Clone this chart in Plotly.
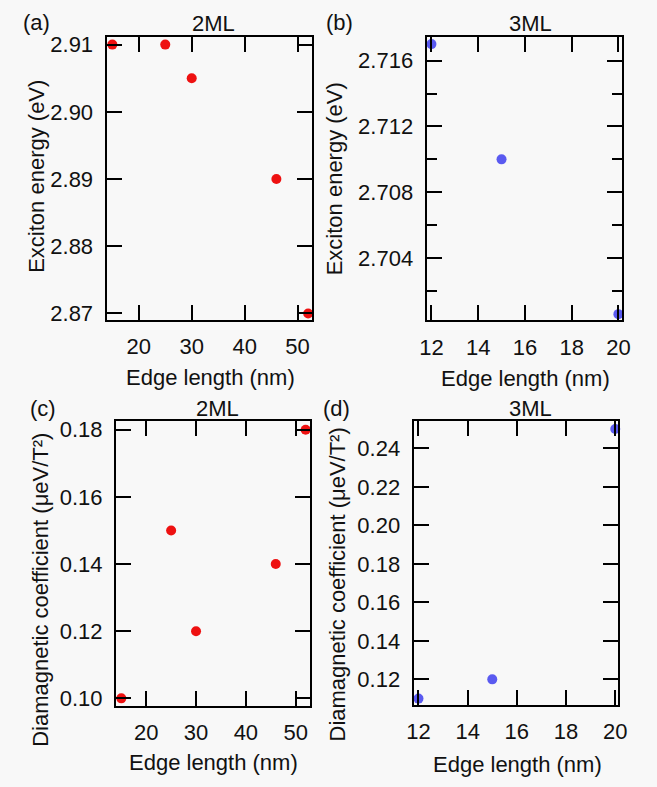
import plotly.graph_objects as go

# Edge length (nm) and measured values for each monolayer thickness
edge_2ml = [15, 25, 30, 46, 52]
energy_2ml = [2.910, 2.910, 2.905, 2.890, 2.870]
diamag_2ml = [0.10, 0.15, 0.12, 0.14, 0.18]

edge_3ml = [12, 15, 20]
energy_3ml = [2.717, 2.710, 2.7006]
diamag_3ml = [0.11, 0.12, 0.25]

W, H = 657, 787
FONT = "Liberation Sans, Arial, sans-serif"
FS = 22
RED = "#ee1111"
BLUE = "#5a5af0"
BG = "#f8f8f8"


def px_x(a, b):
    return [a / W, b / W]


def px_y(top, bottom):
    return [1 - bottom / H, 1 - top / H]


fig = go.Figure()

panels = [
    # (xaxis id, yaxis id, x data, y data, color, x domain px, y domain px)
    ("x", "y", edge_2ml, energy_2ml, RED, (102, 313), (33, 320)),
    ("x2", "y2", edge_3ml, energy_3ml, BLUE, (430, 630), (33, 320.7)),
    ("x3", "y3", edge_2ml, diamag_2ml, RED, (111.7, 310.7), (423.3, 711.7)),
    ("x4", "y4", edge_3ml, diamag_3ml, BLUE, (416.7, 626.7), (423.3, 710.7)),
]

for xa, ya, xs, ys, col, _, _ in panels:
    fig.add_trace(go.Scatter(
        x=xs, y=ys, xaxis=xa, yaxis=ya, mode="markers",
        marker=dict(color=col, size=10, line=dict(width=0)),
        cliponaxis=False, showlegend=False, hoverinfo="x+y",
    ))

axis_common = dict(
    showline=True, linecolor="black", linewidth=2, mirror="ticks",
    ticks="inside", ticklen=15, tickwidth=2, tickcolor="black",
    showgrid=False, zeroline=False,
    tickfont=dict(family=FONT, size=FS, color="#111"),
)

x_ranges = [[13.9, 52.8], [11.79, 20.14], [13.93, 52.9], [11.8, 20.13]]
y_ranges = [[2.8691, 2.9112], [2.70023, 2.71746], [0.0978, 0.1825], [0.1068, 0.254]]
x_ticks = [[20, 30, 40, 50], [12, 14, 16, 18, 20], [20, 30, 40, 50], [12, 14, 16, 18, 20]]
y_ticks = [
    [2.87, 2.88, 2.89, 2.90, 2.91],
    [2.704, 2.708, 2.712, 2.716],
    [0.10, 0.12, 0.14, 0.16, 0.18],
    [0.12, 0.14, 0.16, 0.18, 0.20, 0.22, 0.24],
]
y_fmt = [".2f", ".3f", ".2f", ".2f"]

layout = {}
for i, (xa, ya, _, _, _, xd, yd) in enumerate(panels):
    xk = "xaxis" if i == 0 else f"xaxis{i + 1}"
    yk = "yaxis" if i == 0 else f"yaxis{i + 1}"
    layout[xk] = dict(axis_common, domain=px_x(*xd), range=x_ranges[i],
                      tickvals=x_ticks[i], anchor=ya, ticklabelstandoff=6)
    yax = dict(axis_common, domain=px_y(*yd), range=y_ranges[i],
               tickvals=y_ticks[i], tickformat=y_fmt[i], anchor=xa,
               ticklabelstandoff=7)
    if i == 1:
        yax["minor"] = dict(tickvals=[2.702, 2.706, 2.710, 2.714],
                            ticks="inside", ticklen=10, tickwidth=2,
                            tickcolor="black")
    layout[yk] = yax

fig.update_layout(
    width=W, height=H, margin=dict(l=0, r=0, t=0, b=0),
    paper_bgcolor=BG, plot_bgcolor=BG,
    font=dict(family=FONT, size=FS, color="#111"),
    **layout,
)


def note(text, x, y, angle=0):
    fig.add_annotation(
        text=text, x=x / W, y=1 - y / H, xref="paper", yref="paper",
        xanchor="center", yanchor="middle", showarrow=False,
        textangle=angle, font=dict(family=FONT, size=FS, color="#111"),
    )


# Panel letters and thickness titles
note("(a)", 30, 19)
note("2ML", 212, 20)
note("(b)", 341, 19)
note("3ML", 537, 20)
note("(c)", 37, 410)
note("2ML", 216, 410)
note("(d)", 338, 410)
note("3ML", 537, 410)

# Axis titles
note("Exciton energy (eV)", 30, 175, -90)
note("Exciton energy (eV)", 336, 177, -90)
note("Edge length (nm)", 209, 379)
note("Edge length (nm)", 531, 380)
note("Diamagnetic coefficient (\u03bceV/T\u00b2)", 35, 594, -90)
note("Diamagnetic coefficient (\u03bceV/T\u00b2)", 339, 589, -90)
note("Edge length (nm)", 212, 769)
note("Edge length (nm)", 523, 771)

fig.write_html("out.html")
